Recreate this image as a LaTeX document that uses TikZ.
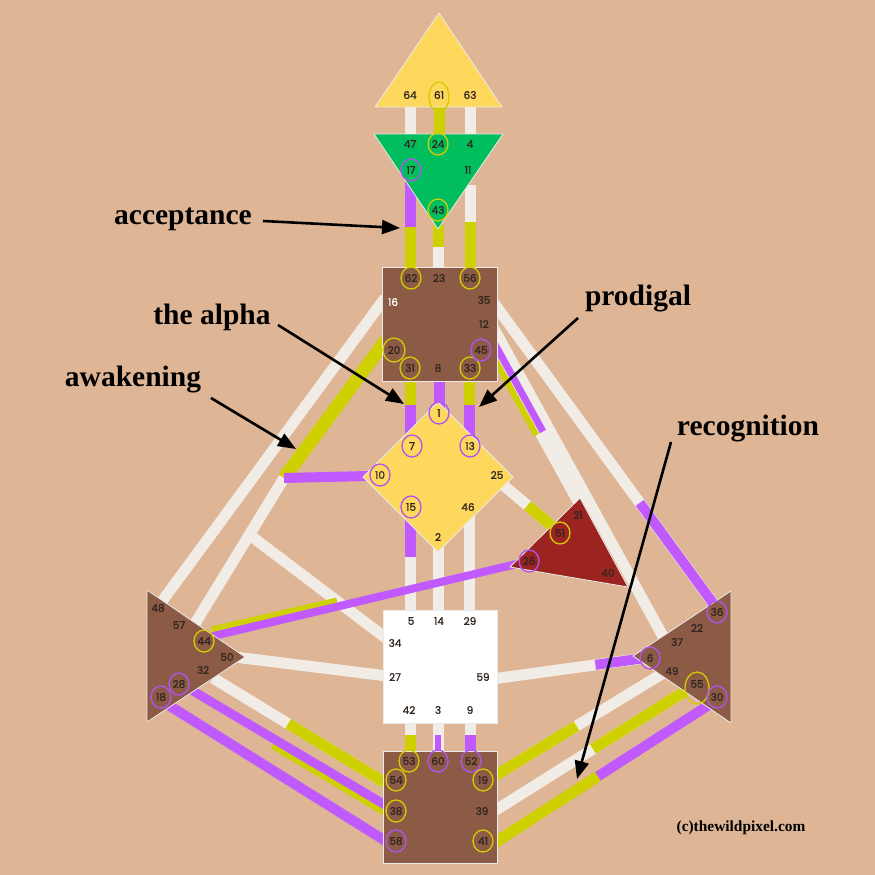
\documentclass[tikz,border=0pt]{standalone}
\usepackage{fontspec}
\setmainfont{Liberation Serif}
\newfontfamily\gatefont{Poppins}[FakeBold=1.2]
\usetikzlibrary{calc,arrows.meta}

\definecolor{bgtan}{RGB}{222,181,149}
\definecolor{headyel}{RGB}{253,216,93}
\definecolor{ajnagreen}{RGB}{0,190,94}
\definecolor{centbrown}{RGB}{140,91,69}
\definecolor{egored}{RGB}{155,35,32}
\definecolor{chanwhite}{RGB}{242,236,230}
\definecolor{chanyel}{RGB}{206,208,0}
\definecolor{chanpur}{RGB}{192,90,255}
\definecolor{gatetxt}{RGB}{50,38,32}
\definecolor{ringyel}{RGB}{212,204,0}
\definecolor{ringpur}{RGB}{176,84,240}

\tikzset{
  cw/.style={draw=chanwhite, line width=11pt},
  cy/.style={draw=chanyel, line width=11pt},
  cp/.style={draw=chanpur, line width=11pt},
  centre/.style={draw=white!92!black, line width=0.8pt, line join=round},
  gate/.style={font=\gatefont\fontsize{10.5}{12}\selectfont, text=gatetxt, inner sep=0pt},
  ringy/.style={draw=ringyel, line width=1.3pt},
  ringp/.style={draw=ringpur, line width=1.3pt},
  lbl/.style={font=\bfseries\fontsize{29.5}{32}\selectfont, inner sep=0pt, anchor=base},
  pointer/.style={line width=2.6pt, -{Triangle[length=18pt,width=14pt]}}
}

\begin{document}
\begin{tikzpicture}[x=1pt,y=-1pt]
\fill[bgtan] (0,0) rectangle (875,875);
\useasboundingbox (0,0) rectangle (875,875);

% channel ends
\coordinate (a64) at (410,105); \coordinate (a47) at (410,136);
\coordinate (a61) at (439,105); \coordinate (a24) at (439,136);
\coordinate (a63) at (470,105); \coordinate (a4) at (470,136);
\coordinate (a17) at (410,180); \coordinate (a62) at (410,269);
\coordinate (a43) at (438,225); \coordinate (a23) at (438,269);
\coordinate (a11) at (470,185); \coordinate (a56) at (470,269);
\coordinate (a31) at (410,379); \coordinate (a7) at (410,440);
\coordinate (a8) at (439,379);  \coordinate (a1) at (439,410);
\coordinate (a33) at (469,379); \coordinate (a13) at (469,440);
\coordinate (a15) at (410,515); \coordinate (a5) at (410,612);
\coordinate (a2) at (438,545);  \coordinate (a14) at (438,612);
\coordinate (a46) at (469,515); \coordinate (a29) at (469,612);
\coordinate (a42) at (410,721); \coordinate (a53) at (410,753);
\coordinate (a3) at (438,721);  \coordinate (a60) at (438,753);
\coordinate (a9) at (470,721);  \coordinate (a52) at (470,753);
\coordinate (a16) at (385,298); \coordinate (a48) at (160,604);
\coordinate (a20) at (386,340); \coordinate (a10) at (368,476);
\coordinate (k10) at (284,478); \coordinate (a57) at (185,640);
\coordinate (k34) at ($(k10)!.35!(a57)$); \coordinate (a34) at (395,645);
\coordinate (a35) at (488,295); \coordinate (a36) at (718,610);
\coordinate (a12) at (488,318); \coordinate (a22) at (665,640);
\coordinate (a45) at (492,345); \coordinate (a21) at (580,505);
\coordinate (a25) at (495,478); \coordinate (a51) at (560,533);
\coordinate (a26) at (525,562); \coordinate (a44) at (205,638);
\coordinate (y44a) at (212,630); \coordinate (y44b) at (337,601);
\coordinate (a50) at (235,657); \coordinate (a27) at (395,677);
\coordinate (a59) at (485,680); \coordinate (a6) at (645,658);
\coordinate (a32) at (213,678); \coordinate (a54) at (392,787);
\coordinate (a28) at (188,688); \coordinate (a38) at (392,809);
\coordinate (y38a) at (273,745); \coordinate (y38b) at (392,816);
\coordinate (a18) at (165,703); \coordinate (a58) at (392,845);
\coordinate (a49) at (665,672); \coordinate (a19) at (488,780);
\coordinate (a55) at (690,688); \coordinate (a39) at (488,815);
\coordinate (a30) at (712,703); \coordinate (a41) at (488,847);

% white channels
\draw[cw] (a64) -- (a47);
\draw[cw] (a63) -- (a4);
\draw[cw] (a43) -- (a23);
\draw[cw] (a11) -- (a56);
\draw[cw] (a15) -- (a5);
\draw[cw] (a2) -- (a14);
\draw[cw] (a46) -- (a29);
\draw[cw] (a42) -- (a53);
\draw[cw] (a3) -- (a60);
\draw[cw] (a9) -- (a52);
\draw[cw] (a16) -- (a48);
\draw[cw] (k10) -- (a57);
\draw[cw] (k34) -- (a34);
\draw[cw] (a35) -- (a36);
\draw[cw] (a12) -- (a22);
\draw[cw] (a45) -- (a21);
\draw[cw] (a25) -- (a51);
\draw[cw] (a50) -- (a27);
\draw[cw] (a59) -- (a6);
\draw[cw] (a32) -- (a54);
\draw[cw] (a49) -- (a19);
\draw[cw] (a55) -- (a39);

% defined parts
\draw[cy] (a61) -- (a24);
\draw[cp] (a17) -- ($(a17)!.53!(a62)$);
\draw[cy] ($(a17)!.53!(a62)$) -- (a62);
\draw[cy] (a43) -- ($(a43)!.5!(a23)$);
\draw[cy] ($(a11)!.44!(a56)$) -- (a56);
\draw[cy] (a31) -- ($(a31)!.43!(a7)$);
\draw[cp] ($(a31)!.43!(a7)$) -- (a7);
\draw[cp] (a8) -- (a1);
\draw[cy] (a33) -- ($(a33)!.43!(a13)$);
\draw[cp] ($(a33)!.43!(a13)$) -- (a13);
\draw[cp] (a15) -- ($(a15)!.43!(a5)$);
\draw[cy] ($(a42)!.44!(a53)$) -- (a53);
\draw[cp, line width=6pt] ($(a3)!.44!(a60)$) -- (a60);
\draw[cp] ($(a9)!.44!(a52)$) -- (a52);
\draw[cy, line width=13pt] (a20) -- (k10);
\draw[cp, line width=10pt] (k10) -- (a10);
\draw[cp, line width=10pt] ($(a35)!.66!(a36)$) -- (a36);
\draw[cy, line width=6pt] ([shift={(-4,2)}]a45) -- ([shift={(-4,2)}]$(a45)!.55!(a21)$);
\draw[cp, line width=7pt] ([shift={(2.5,-1.5)}]a45) -- ([shift={(2.5,-1.5)}]$(a45)!.55!(a21)$);
\draw[cy] ($(a25)!.5!(a51)$) -- (a51);
\draw[cy, line width=7pt] (y44a) -- (y44b);
\draw[cp, line width=8pt] (a26) -- (a44);
\draw[cp, line width=10pt] ($(a59)!.69!(a6)$) -- (a6);
\draw[cy] ($(a32)!.42!(a54)$) -- (a54);
\draw[cy, line width=8pt] (y38a) -- (y38b);
\draw[cp, line width=9pt] (a28) -- (a38);
\draw[cp, line width=10pt] (a18) -- (a58);
\draw[cy] ($(a49)!.5!(a19)$) -- (a19);
\draw[cy] (a55) -- ($(a55)!.48!(a39)$);
\draw[cp, line width=10pt] (a30) -- ($(a30)!.51!(a41)$);
\draw[cy] ($(a30)!.51!(a41)$) -- (a41);

% centres
\filldraw[centre, fill=headyel] (439,13) -- (375,107) -- (502,107) -- cycle;
\filldraw[centre, fill=ajnagreen] (374,134) -- (503,134) -- (438,229) -- cycle;
\filldraw[centre, fill=centbrown] (382,267) rectangle (497,381);
\filldraw[centre, fill=headyel] (438,402) -- (513,477) -- (438,552) -- (363,477) -- cycle;
\filldraw[centre, fill=egored] (580,498) -- (628,587) -- (510,567) -- cycle;
\filldraw[centre, fill=centbrown] (147,590) -- (245,657) -- (147,722) -- cycle;
\filldraw[centre, fill=centbrown] (731,591) -- (731,723) -- (633,656) -- cycle;
\filldraw[centre, fill=white] (383,610) rectangle (497,723);
\filldraw[centre, fill=centbrown] (383,751) rectangle (497,863);

% gates
\foreach \g/\x/\y in {64/410/95, 61/439/95, 63/470/95,
  47/410/144, 24/438/144, 4/470/144, 17/411/170, 11/468/170, 43/438/210,
  62/411/278, 23/439/278, 56/470/278, 35/484/300, 12/484/324,
  20/394/350, 45/481/350, 31/410/368, 8/438/368, 33/470/368,
  1/439/413, 7/412/446, 13/470/446, 10/380/475, 25/497/475,
  15/411/507, 46/468/507, 2/438/537,
  21/578/515, 51/560/533, 26/529/561, 40/608/573,
  48/158/608, 57/179/625, 44/204/641, 50/227/657, 32/203/670, 28/179/684, 18/161/697,
  36/717/612, 22/697/628, 37/677/642, 6/650/658, 49/672/671, 55/697/684, 30/717/697,
  5/411/621, 14/439/621, 29/470/621, 34/395/643, 27/395/677, 59/483/677,
  42/409/710, 3/438/710, 9/470/710,
  53/409/761, 60/438/761, 52/471/761, 54/396/780, 19/483/780,
  38/396/811, 39/482/811, 58/396/841, 41/483/841}
  \node[gate] (g\g) at (\x,\y) {\g};
\node[gate, text=white] (g16) at (393,302) {16};

% circled gates
\foreach \g in {24,43,62,56,31,33,51,44,53,54,38,19,41}
  \draw[ringy] (g\g) circle[x radius=10pt, y radius=11pt];
\draw[ringy] (g20) circle[x radius=11pt, y radius=12pt];
\draw[ringy] ([yshift=-2pt]g61) circle[x radius=10pt, y radius=15pt];
\draw[ringy] ([yshift=-4pt]g55) circle[x radius=12pt, y radius=16pt];
\foreach \g in {17,45,1,7,13,10,15,26,28,18,36,6,30,60,52,58}
  \draw[ringp] (g\g) circle[x radius=10pt, y radius=11pt];

% notes
\node[lbl] (acc) at (183,224) {acceptance};
\node[lbl] (alpha) at (212,324) {the alpha};
\node[lbl] (awake) at (133,386) {awakening};
\node[lbl] (prod) at (638,305) {prodigal};
\node[lbl] (recog) at (748,435) {recognition};
\node[font=\bfseries\fontsize{15.4}{17}\selectfont, inner sep=0pt, anchor=base] (credit) at (741,831) {(c)thewildpixel.com};

\coordinate (accFrom) at (263,221);   \coordinate (accTo) at (400,228);
\coordinate (alphaFrom) at (278,325); \coordinate (alphaTo) at (404,404);
\coordinate (awakeFrom) at (211,398); \coordinate (awakeTo) at (296,449);
\coordinate (prodFrom) at (578,318);  \coordinate (prodTo) at (479,407);
\coordinate (recogFrom) at (671,442); \coordinate (recogTo) at (577,779);
\draw[pointer] (accFrom) -- (accTo);
\draw[pointer] (alphaFrom) -- (alphaTo);
\draw[pointer] (awakeFrom) -- (awakeTo);
\draw[pointer] (prodFrom) -- (prodTo);
\draw[pointer] (recogFrom) -- (recogTo);
\end{tikzpicture}
\end{document}
